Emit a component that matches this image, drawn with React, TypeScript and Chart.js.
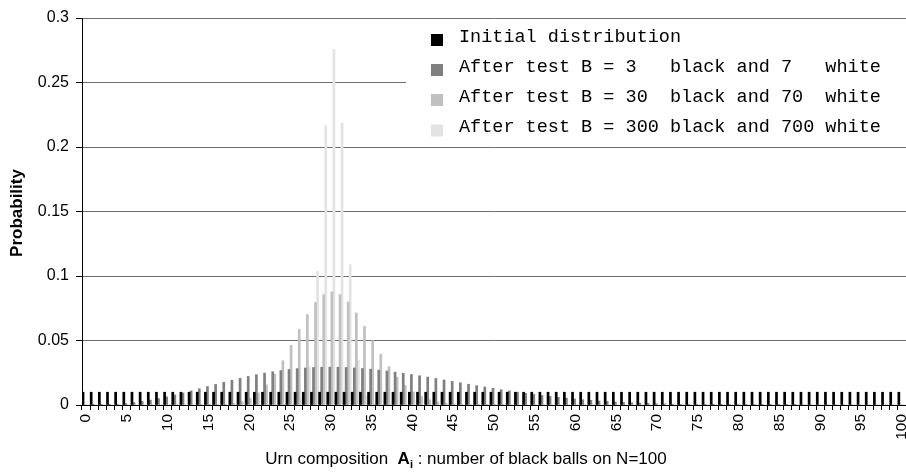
import React, { useEffect, useRef } from "react";
import { Chart, registerables } from "chart.js";

Chart.register(...registerables);

const categories: string[] = Array.from({ length: 101 }, (_, i) => String(i));
const xTickLabels = ["0", "5", "10", "15", "20", "25", "30", "35", "40", "45", "50", "55", "60", "65", "70", "75", "80", "85", "90", "95", "100"];
const yTickLabels = ["0", "0.05", "0.1", "0.15", "0.2", "0.25", "0.3"];

const seriesNames = [
  "Initial distribution",
  "After test B = 3   black and 7   white",
  "After test B = 30  black and 70  white",
  "After test B = 300 black and 700 white",
];
const seriesColors = ["#000000", "#808080", "#c0c0c0", "#e3e3e3"];

const initialDist = [
  0.0099, 0.0099, 0.0099, 0.0099, 0.0099, 0.0099, 0.0099, 0.0099, 0.0099, 0.0099,
  0.0099, 0.0099, 0.0099, 0.0099, 0.0099, 0.0099, 0.0099, 0.0099, 0.0099, 0.0099,
  0.0099, 0.0099, 0.0099, 0.0099, 0.0099, 0.0099, 0.0099, 0.0099, 0.0099, 0.0099,
  0.0099, 0.0099, 0.0099, 0.0099, 0.0099, 0.0099, 0.0099, 0.0099, 0.0099, 0.0099,
  0.0099, 0.0099, 0.0099, 0.0099, 0.0099, 0.0099, 0.0099, 0.0099, 0.0099, 0.0099,
  0.0099, 0.0099, 0.0099, 0.0099, 0.0099, 0.0099, 0.0099, 0.0099, 0.0099, 0.0099,
  0.0099, 0.0099, 0.0099, 0.0099, 0.0099, 0.0099, 0.0099, 0.0099, 0.0099, 0.0099,
  0.0099, 0.0099, 0.0099, 0.0099, 0.0099, 0.0099, 0.0099, 0.0099, 0.0099, 0.0099,
  0.0099, 0.0099, 0.0099, 0.0099, 0.0099, 0.0099, 0.0099, 0.0099, 0.0099, 0.0099,
  0.0099, 0.0099, 0.0099, 0.0099, 0.0099, 0.0099, 0.0099, 0.0099, 0.0099, 0.0099,
  0.0099,
];

const after3 = [
  0, 0.00001, 0.00009, 0.00029, 0.00064, 0.00115, 0.00185, 0.00272, 0.00377, 0.00497,
  0.00631, 0.00777, 0.00932, 0.01094, 0.0126, 0.01428, 0.01595, 0.0176, 0.01919, 0.02071,
  0.02215, 0.02347, 0.0247, 0.02578, 0.02673, 0.02753, 0.02819, 0.0287, 0.02907, 0.02928,
  0.02935, 0.02929, 0.02908, 0.02875, 0.0283, 0.02774, 0.02709, 0.02634, 0.02551, 0.0246,
  0.02365, 0.02265, 0.02162, 0.02058, 0.01942, 0.01831, 0.0172, 0.0161, 0.01501, 0.01394,
  0.01289, 0.01187, 0.0109, 0.00996, 0.00906, 0.00821, 0.0074, 0.00665, 0.00594, 0.00528,
  0.00467, 0.00411, 0.0036, 0.00313, 0.00271, 0.00233, 0.00199, 0.00169, 0.00143, 0.00119,
  0.00099, 0.00081, 0.00066, 0.00054, 0.00043, 0.00034, 0.00027, 0.0002, 0.00016, 0.00012,
  0.00009, 0.00006, 0.00005, 0.00003, 0.00002, 0.00002, 0.00001, 0.00001, 0, 0,
  0, 0, 0, 0, 0, 0, 0, 0, 0, 0,
  0,
];

const after30 = [
  0, 0, 0, 0, 0, 0, 0, 0, 0, 0,
  0, 0, 0, 0, 0.00002, 0.00007, 0.0002, 0.00053, 0.00125, 0.00268,
  0.00524, 0.0094, 0.01554, 0.0239, 0.03432, 0.04621, 0.05857, 0.07011, 0.07948, 0.08556,
  0.08765, 0.08561, 0.07987, 0.07127, 0.06091, 0.04992, 0.03926, 0.02966, 0.02154, 0.01504,
  0.01011, 0.00654, 0.00407, 0.00244, 0.00141, 0.00078, 0.00042, 0.00022, 0.00011, 0.00005,
  0.00002, 0.00001, 0, 0, 0, 0, 0, 0, 0, 0,
  0, 0, 0, 0, 0, 0, 0, 0, 0, 0,
  0, 0, 0, 0, 0, 0, 0, 0, 0, 0,
  0, 0, 0, 0, 0, 0, 0, 0, 0, 0,
  0, 0, 0, 0, 0, 0, 0, 0, 0, 0,
  0,
];

const after300 = [
  0, 0, 0, 0, 0, 0, 0, 0, 0, 0,
  0, 0, 0, 0, 0, 0, 0, 0, 0, 0,
  0, 0, 0, 0, 0.00002, 0.00046, 0.00489, 0.02953, 0.1036, 0.2165,
  0.2755, 0.2185, 0.1087, 0.0348, 0.00723, 0.00099, 0.00009, 0.00001, 0, 0,
  0, 0, 0, 0, 0, 0, 0, 0, 0, 0,
  0, 0, 0, 0, 0, 0, 0, 0, 0, 0,
  0, 0, 0, 0, 0, 0, 0, 0, 0, 0,
  0, 0, 0, 0, 0, 0, 0, 0, 0, 0,
  0, 0, 0, 0, 0, 0, 0, 0, 0, 0,
  0, 0, 0, 0, 0, 0, 0, 0, 0, 0,
  0,
];

const seriesValues = [initialDist, after3, after30, after300];

const SANS = "'Liberation Sans', Arial, sans-serif";
const MONO = "'Liberation Mono', 'Courier New', monospace";

const decorPlugin = {
  id: "decor",
  afterDraw(chart: any) {
    const ctx = chart.ctx as CanvasRenderingContext2D;
    ctx.save();
    // Legend box
    ctx.fillStyle = "#ffffff";
    ctx.fillRect(406, 19.5, 500, 127);
    const tops = [34, 64, 94, 124.5];
    const baselines = [42, 72, 102, 132];
    ctx.font = `18.5px ${MONO}`;
    ctx.textAlign = "left";
    ctx.textBaseline = "alphabetic";
    for (let i = 0; i < seriesNames.length; i++) {
      ctx.fillStyle = seriesColors[i];
      ctx.fillRect(431, tops[i], 12, 12);
      ctx.fillStyle = "#000000";
      ctx.fillText(seriesNames[i], 459, baselines[i]);
    }
    // Y title
    ctx.save();
    ctx.translate(17, 213);
    ctx.rotate(-Math.PI / 2);
    ctx.font = `bold 17px ${SANS}`;
    ctx.textAlign = "center";
    ctx.textBaseline = "middle";
    ctx.fillStyle = "#000";
    ctx.fillText("Probability", 0, 0);
    ctx.restore();
    // X title
    const pieces = [
      { t: "Urn composition  ", f: `17px ${SANS}`, dy: 0 },
      { t: "A", f: `bold 17px ${SANS}`, dy: 0 },
      { t: "i", f: `bold 11px ${SANS}`, dy: 4 },
      { t: " : number of black balls on N=100", f: `17px ${SANS}`, dy: 0 },
    ];
    let total = 0;
    for (const p of pieces) {
      ctx.font = p.f;
      total += ctx.measureText(p.t).width;
    }
    let x = 466 - total / 2;
    const base = 464;
    ctx.textAlign = "left";
    ctx.textBaseline = "alphabetic";
    ctx.fillStyle = "#000";
    for (const p of pieces) {
      ctx.font = p.f;
      ctx.fillText(p.t, x, base + p.dy);
      x += ctx.measureText(p.t).width;
    }
    ctx.restore();
  },
};

export default function App() {
  const ref = useRef<HTMLCanvasElement | null>(null);
  useEffect(() => {
    document.body.style.margin = "0";
    if (!ref.current) return;
    const chart = new Chart(ref.current, {
      type: "bar",
      data: {
        labels: categories,
        datasets: seriesValues.map((vals, i) => ({
          label: seriesNames[i],
          data: vals,
          backgroundColor: seriesColors[i],
          borderWidth: 0,
          barPercentage: 1,
          categoryPercentage: 1,
        })),
      },
      options: {
        animation: false,
        responsive: false,
        devicePixelRatio: 1,
        layout: { padding: { top: 18, left: 0, right: 0, bottom: 0 } },
        plugins: {
          legend: { display: false },
          tooltip: { enabled: false },
          title: { display: false },
        },
        scales: {
          x: {
            type: "category",
            offset: true,
            grid: {
              offset: true,
              drawOnChartArea: false,
              drawTicks: true,
              tickLength: 5,
              tickColor: "#000",
              color: "#000",
            },
            border: { display: true, color: "#000", width: 1 },
            ticks: {
              autoSkip: false,
              maxRotation: 90,
              minRotation: 90,
              padding: 4,
              color: "#000",
              font: { family: SANS, size: 15.5 },
              callback: (_v: any, index: number) =>
                xTickLabels.includes(categories[index]) ? categories[index] : "",
            },
            afterFit: (scale: any) => {
              scale.height = 68;
              scale.paddingLeft = 0;
              scale.paddingRight = 0;
            },
          },
          y: {
            min: 0,
            max: 0.3,
            grid: {
              color: "#6e6e6e",
              lineWidth: 1,
              drawTicks: true,
              tickLength: 6,
              tickColor: "#000",
            },
            border: { display: true, color: "#000", width: 1 },
            ticks: {
              stepSize: 0.05,
              padding: 7,
              color: "#000",
              font: { family: SANS, size: 16 },
              callback: (_v: any, index: number) => yTickLabels[index],
            },
            afterFit: (scale: any) => {
              scale.width = 82;
              scale.paddingTop = 0;
              scale.paddingBottom = 0;
            },
          },
        },
      },
      plugins: [decorPlugin],
    });
    return () => chart.destroy();
  }, []);
  return (
    <div style={{ width: 906, height: 473 }}>
      <canvas ref={ref} width={906} height={473} style={{ display: "block" }} />
    </div>
  );
}
